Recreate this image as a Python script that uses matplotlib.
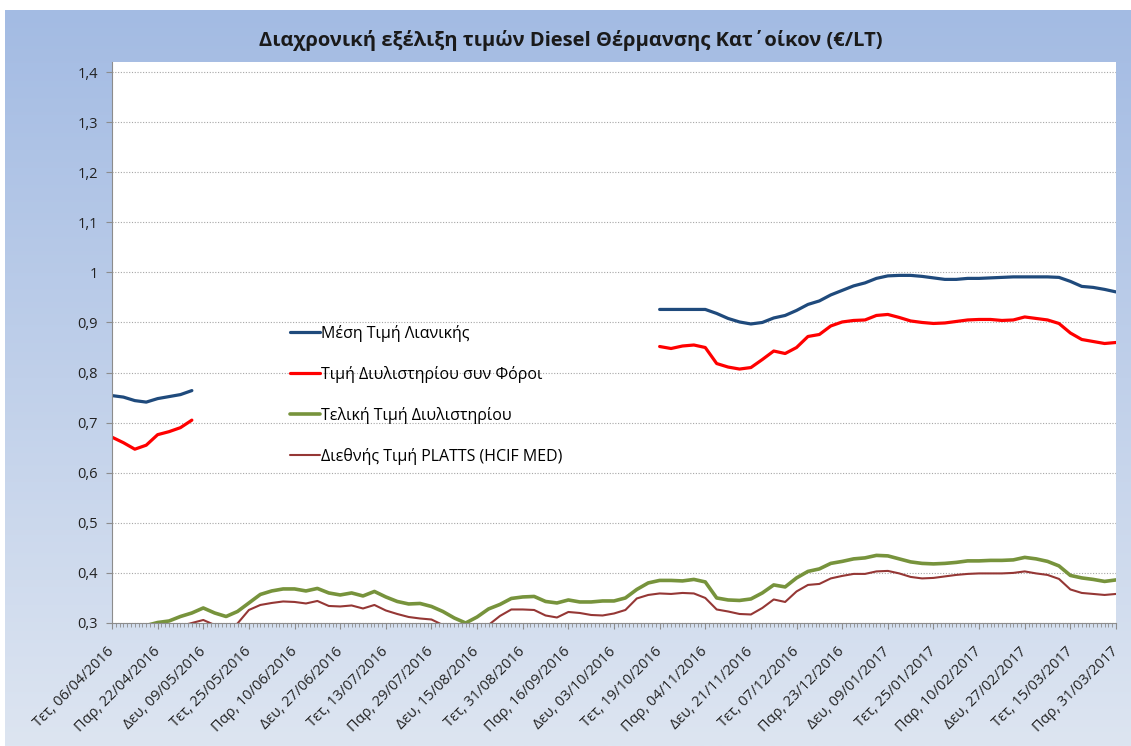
import numpy as np
import matplotlib
matplotlib.use("Agg")
import matplotlib.pyplot as plt
from matplotlib.colors import LinearSegmentedColormap

plt.rcParams['font.family'] = ['Open Sans', 'DejaVu Sans']

# one reading every 3 trading days, 12 trading days between labels
step = 3
label_every = 12

tick_labels = [
    "Τετ, 06/04/2016", "Παρ, 22/04/2016", "Δευ, 09/05/2016", "Τετ, 25/05/2016",
    "Παρ, 10/06/2016", "Δευ, 27/06/2016", "Τετ, 13/07/2016", "Παρ, 29/07/2016",
    "Δευ, 15/08/2016", "Τετ, 31/08/2016", "Παρ, 16/09/2016", "Δευ, 03/10/2016",
    "Τετ, 19/10/2016", "Παρ, 04/11/2016", "Δευ, 21/11/2016", "Τετ, 07/12/2016",
    "Παρ, 23/12/2016", "Δευ, 09/01/2017", "Τετ, 25/01/2017", "Παρ, 10/02/2017",
    "Δευ, 27/02/2017", "Τετ, 15/03/2017", "Παρ, 31/03/2017",
]

gap = [None] * 40

retail = [0.754, 0.751, 0.744, 0.741, 0.748, 0.752, 0.756, 0.764] + gap + [
    0.926, 0.926, 0.926, 0.926, 0.926, 0.918, 0.908, 0.901, 0.897, 0.900,
    0.909, 0.914, 0.924, 0.936, 0.943, 0.955, 0.964, 0.973, 0.979, 0.988,
    0.993, 0.994, 0.994, 0.992, 0.989, 0.986, 0.986, 0.988, 0.988, 0.989,
    0.990, 0.991, 0.991, 0.991, 0.991, 0.990, 0.982, 0.972, 0.970, 0.966,
    0.961]

refinery_tax = [0.671, 0.660, 0.647, 0.655, 0.676, 0.682, 0.690, 0.705] + gap + [
    0.852, 0.848, 0.853, 0.855, 0.850, 0.818, 0.811, 0.807, 0.810, 0.826,
    0.843, 0.838, 0.850, 0.872, 0.876, 0.893, 0.901, 0.904, 0.905, 0.914,
    0.916, 0.910, 0.903, 0.900, 0.898, 0.899, 0.902, 0.905, 0.906, 0.906,
    0.904, 0.905, 0.911, 0.908, 0.905, 0.898, 0.879, 0.866, 0.862, 0.858,
    0.860]

refinery = [
    0.272, 0.280, 0.288, 0.295, 0.301, 0.304, 0.313, 0.320, 0.330, 0.320,
    0.313, 0.323, 0.340, 0.357, 0.364, 0.368, 0.368, 0.364, 0.369, 0.360,
    0.356, 0.360, 0.354, 0.363, 0.352, 0.343, 0.338, 0.339, 0.333, 0.323,
    0.310, 0.300, 0.312, 0.328, 0.337, 0.349, 0.352, 0.353, 0.343, 0.340,
    0.346, 0.342, 0.342, 0.344, 0.344, 0.350, 0.367, 0.380, 0.385, 0.385,
    0.384, 0.387, 0.382, 0.350, 0.346, 0.345, 0.348, 0.360, 0.376, 0.372,
    0.390, 0.403, 0.408, 0.419, 0.423, 0.428, 0.430, 0.435, 0.434, 0.428,
    0.422, 0.419, 0.418, 0.419, 0.421, 0.424, 0.424, 0.425, 0.425, 0.426,
    0.431, 0.428, 0.423, 0.414, 0.395, 0.390, 0.387, 0.383, 0.386]

platts = [
    0.262, 0.266, 0.272, 0.276, 0.282, 0.287, 0.294, 0.300, 0.306, 0.296,
    0.288, 0.299, 0.326, 0.336, 0.340, 0.343, 0.342, 0.339, 0.344, 0.334,
    0.333, 0.335, 0.329, 0.336, 0.325, 0.318, 0.312, 0.309, 0.307, 0.296,
    0.285, 0.280, 0.282, 0.296, 0.314, 0.327, 0.327, 0.326, 0.315, 0.311,
    0.322, 0.320, 0.316, 0.315, 0.319, 0.326, 0.349, 0.356, 0.359, 0.358,
    0.360, 0.359, 0.350, 0.327, 0.323, 0.318, 0.317, 0.330, 0.347, 0.342,
    0.363, 0.376, 0.378, 0.389, 0.394, 0.398, 0.398, 0.403, 0.404, 0.399,
    0.392, 0.389, 0.390, 0.393, 0.396, 0.398, 0.399, 0.399, 0.399, 0.400,
    0.403, 0.399, 0.396, 0.388, 0.367, 0.360, 0.358, 0.356, 0.358]

series = [
    ("Μέση Τιμή Λιανικής", retail, '#1f4a7c', 2.3),
    ("Τιμή Διυλιστηρίου συν Φόροι", refinery_tax, '#ff0000', 2.3),
    ("Τελική Τιμή Διυλιστηρίου", refinery, '#77933c', 2.6),
    ("Διεθνής Τιμή PLATTS (HCIF MED)", platts, '#953735', 1.5),
]

fig = plt.figure(figsize=(11.31, 7.46), dpi=100)

# gradient background of the chart area
bg = fig.add_axes([0.004, 0, 0.996, 0.987], zorder=0)
cmap = LinearSegmentedColormap.from_list('bg', ['#dde5f1', '#a3bbe3'])
bg.imshow(np.linspace(0, 1, 256).reshape(-1, 1), aspect='auto', cmap=cmap,
          origin='lower', extent=[0, 1, 0, 1])
bg.set_axis_off()

ax = fig.add_axes([112 / 1131, 123 / 746, 1004 / 1131, 561 / 746], zorder=1)
ax.set_facecolor('white')

n_days = (len(tick_labels) - 1) * label_every
x = np.arange(0, n_days + 1, step)
for name, vals, color, lw in series:
    ax.plot(x, np.array(vals, dtype=float), color=color, lw=lw, label=name,
            solid_capstyle='round', solid_joinstyle='round')

ax.set_xlim(0, n_days)
ax.set_ylim(0.3, 1.42)

yt = np.round(np.arange(0.3, 1.41, 0.1), 1)
ax.set_yticks(yt)
ax.set_yticklabels([("%g" % v).replace('.', ',') for v in yt], fontsize=10.5,
                   color='#222222')
ax.yaxis.grid(True, color='#a6a6a6', linestyle=(0, (1, 1.5)), lw=0.8)
ax.set_axisbelow(True)

ax.set_xticks(np.arange(0, n_days + 1, label_every))
ax.set_xticks(np.arange(0, n_days + 1, 1), minor=True)
ax.set_xticklabels(tick_labels, rotation=45, ha='right', va='center',
                   rotation_mode='anchor', fontsize=10.5, color='#222222')
ax.tick_params(axis='x', which='major', length=4, color='#8c8c8c', pad=15)
ax.tick_params(axis='x', which='minor', length=3, color='#8c8c8c', width=0.6)
ax.tick_params(axis='y', length=4, color='#8c8c8c', pad=6)

for s in ['top', 'right']:
    ax.spines[s].set_visible(False)
for s in ['left', 'bottom']:
    ax.spines[s].set_color('#8c8c8c')

ax.legend(loc='upper left', bbox_to_anchor=(0.163, 0.557), frameon=False,
          fontsize=11.5, handlelength=1.85, handletextpad=0.1, labelspacing=1.5)

fig.text(0.505, 0.946, "Διαχρονική εξέλιξη τιμών Diesel Θέρμανσης Κατ΄οίκον (€/LT)",
         ha='center', va='center', fontsize=14.5, fontweight='bold', color='#1a1a1a')

fig.savefig('out.png', dpi=100, facecolor='white')
